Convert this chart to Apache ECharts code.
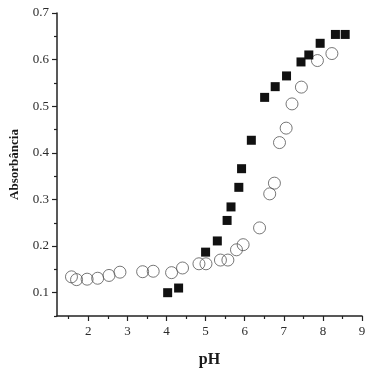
<!DOCTYPE html>
<html>
<head>
<meta charset="utf-8">
<script src="https://cdn.jsdelivr.net/npm/echarts@6/dist/echarts.min.js"></script>
<style>
  html, body { margin: 0; padding: 0; background: #fff; }
  #chart { width: 373px; height: 373px; }
</style>
</head>
<body>
<div id="chart"></div>
<script>
// filled squares
const phSquares = [4.03, 4.31, 5.00, 5.30, 5.55, 5.65, 5.85, 5.92, 6.17, 6.51, 6.78, 7.07, 7.44, 7.64, 7.93, 8.32, 8.57];
const absSquares = [0.100, 0.110, 0.187, 0.211, 0.255, 0.284, 0.326, 0.366, 0.427, 0.519, 0.542, 0.565, 0.595, 0.610, 0.635, 0.654, 0.654];
// open circles
const phCircles = [1.57, 1.70, 1.97, 2.24, 2.53, 2.81, 3.39, 3.66, 4.13, 4.41, 4.83, 5.01, 5.38, 5.57, 5.79, 5.96, 6.38, 6.64, 6.76, 6.89, 7.06, 7.21, 7.45, 7.86, 8.23];
const absCircles = [0.134, 0.128, 0.129, 0.131, 0.137, 0.144, 0.145, 0.146, 0.143, 0.153, 0.162, 0.162, 0.170, 0.170, 0.192, 0.203, 0.239, 0.312, 0.335, 0.422, 0.453, 0.505, 0.541, 0.598, 0.613];

const xMajor = [2, 3, 4, 5, 6, 7, 8, 9];
const xMinor = [1.5, 2.5, 3.5, 4.5, 5.5, 6.5, 7.5, 8.5];
const yMajor = [0.1, 0.2, 0.3, 0.4, 0.5, 0.6, 0.7];
const yMinor = [0.05, 0.15, 0.25, 0.35, 0.45, 0.55, 0.65];

const chart = echarts.init(document.getElementById("chart"));
const serif = "Liberation Serif";
const axisColor = "#222";

const option = {
  animation: false,
  grid: { left: 56, right: 11, top: 13, bottom: 53 },
  xAxis: [
    {
      type: "value",
      min: 1.2,
      max: 9,
      name: "pH",
      nameLocation: "middle",
      nameGap: 36,
      nameTextStyle: { fontFamily: serif, fontWeight: "bold", fontSize: 16, color: "#1a1a1a" },
      axisLine: { show: true, lineStyle: { color: axisColor, width: 1.5 } },
      axisTick: { show: true, customValues: xMajor, length: 5, lineStyle: { color: axisColor, width: 1.2 } },
      axisLabel: { customValues: xMajor, margin: 9, fontFamily: serif, fontSize: 13, color: "#2a2a2a" },
      splitLine: { show: false },
    },
    {
      // minor ticks only
      type: "value",
      min: 1.2,
      max: 9,
      position: "bottom",
      axisLine: { show: false },
      axisTick: { show: true, customValues: xMinor, length: 3, lineStyle: { color: axisColor, width: 1.2 } },
      axisLabel: { show: false },
      splitLine: { show: false },
    },
  ],
  yAxis: [
    {
      type: "value",
      min: 0.05,
      max: 0.7,
      name: "Absorbância",
      nameLocation: "middle",
      nameGap: 36,
      nameTextStyle: { fontFamily: serif, fontWeight: "bold", fontSize: 13, color: "#1a1a1a" },
      axisLine: { show: true, lineStyle: { color: axisColor, width: 1.5 } },
      axisTick: { show: true, customValues: yMajor, length: 5, lineStyle: { color: axisColor, width: 1.2 } },
      axisLabel: { customValues: yMajor, margin: 8, fontFamily: serif, fontSize: 13, color: "#2a2a2a", formatter: (v) => v.toFixed(1) },
      splitLine: { show: false },
    },
    {
      // minor ticks only
      type: "value",
      min: 0.05,
      max: 0.7,
      position: "left",
      axisLine: { show: false },
      axisTick: { show: true, customValues: yMinor, length: 3, lineStyle: { color: axisColor, width: 1.2 } },
      axisLabel: { show: false },
      splitLine: { show: false },
    },
  ],
  series: [
    {
      type: "scatter",
      symbol: "circle",
      symbolSize: 12,
      data: phCircles.map((x, i) => [x, absCircles[i]]),
      itemStyle: { color: "rgba(0,0,0,0)", borderColor: "#555", borderWidth: 1 },
    },
    {
      type: "scatter",
      symbol: "rect",
      symbolSize: 9,
      data: phSquares.map((x, i) => [x, absSquares[i]]),
      itemStyle: { color: "#111", opacity: 1 },
    },
  ],
};

chart.setOption(option);
</script>
</body>
</html>
